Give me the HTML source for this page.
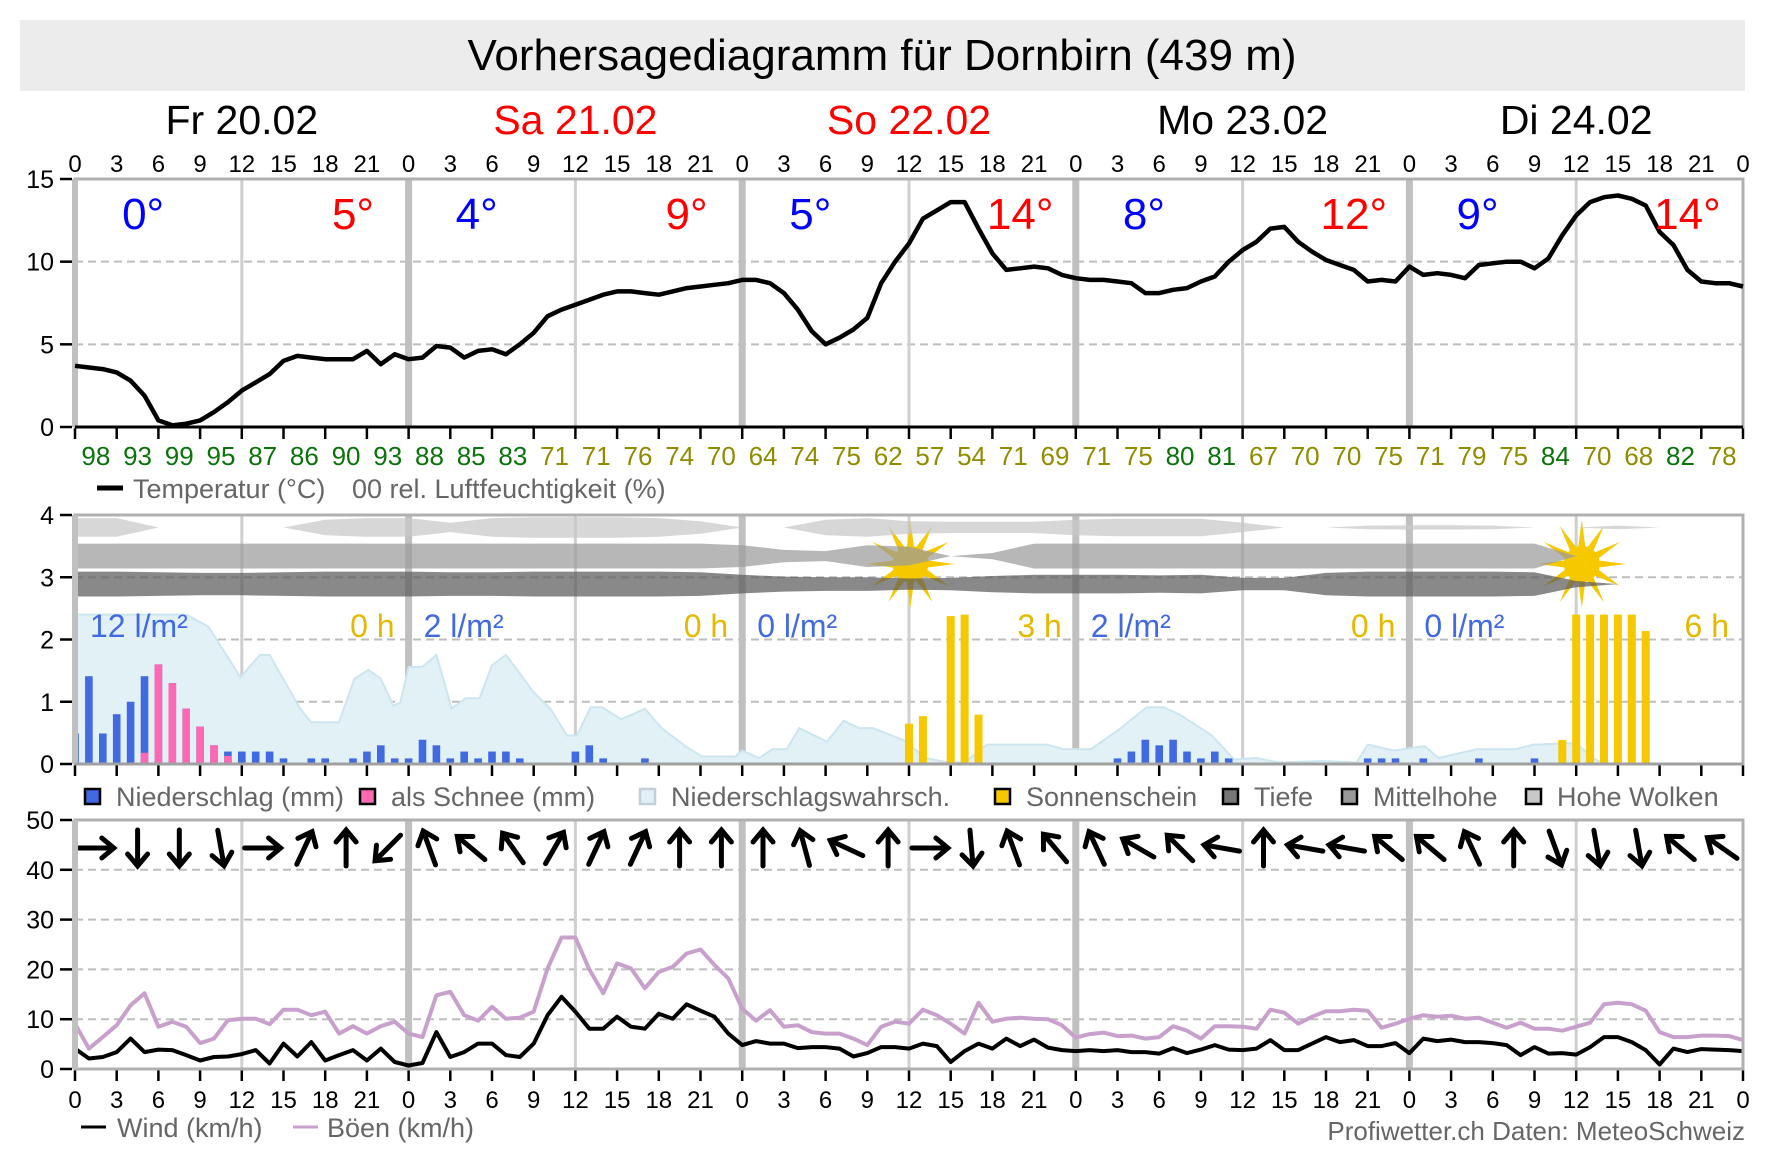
<!DOCTYPE html>
<html><head><meta charset="utf-8"><style>
html,body{margin:0;padding:0;background:#fff;}
svg{display:block;font-family:"Liberation Sans",Arial,sans-serif;}
</style></head><body>
<svg id="chart" width="1773" height="1174" viewBox="0 0 1773 1174" xmlns="http://www.w3.org/2000/svg">
<rect x="20" y="20" width="1725" height="71" fill="#ececec"/>
<text x="882" y="70" font-size="44" text-anchor="middle" fill="#000">Vorhersagediagramm für Dornbirn (439 m)</text>
<g id="g"></g>
</svg>
<script>
// ---------- data ----------
const dayLabels = ["Fr 20.02","Sa 21.02","So 22.02","Mo 23.02","Di 24.02"];
const dayColors = ["#000","#ff0000","#ff0000","#000","#000"];
const dayMin = [0,4,5,8,9];
const dayMax = [5,9,14,12,14];
const dayPrecip = ["12 l/m²","2 l/m²","0 l/m²","2 l/m²","0 l/m²"];
const daySun = ["0 h","0 h","3 h","0 h","6 h"];
const hourTicks = ["0","3","6","9","12","15","18","21"];
const temps = [3.7,3.6,3.5,3.3,2.8,1.9,0.4,0.1,0.2,0.4,0.9,1.5,2.2,2.7,3.2,4.0,4.3,4.2,4.1,4.1,4.1,4.6,3.8,4.4,
4.1,4.2,4.9,4.8,4.2,4.6,4.7,4.4,5.0,5.7,6.7,7.1,7.4,7.7,8.0,8.2,8.2,8.1,8.0,8.2,8.4,8.5,8.6,8.7,
8.9,8.9,8.7,8.1,7.1,5.8,5.0,5.4,5.9,6.6,8.7,10.0,11.1,12.6,13.1,13.6,13.6,12.0,10.5,9.5,9.6,9.7,9.6,9.2,
9.0,8.9,8.9,8.8,8.7,8.1,8.1,8.3,8.4,8.8,9.1,10.0,10.7,11.2,12.0,12.1,11.2,10.6,10.1,9.8,9.5,8.8,8.9,8.8,
9.7,9.2,9.3,9.2,9.0,9.8,9.9,10.0,10.0,9.6,10.2,11.6,12.8,13.6,13.9,14.0,13.8,13.4,11.8,11.0,9.5,8.8,8.7,8.7,8.5];
const humidity = [98,93,99,95,87,86,90,93,88,85,83,71,71,76,74,70,64,74,75,62,57,54,71,69,71,75,80,81,67,70,70,75,71,79,75,84,70,68,82,78];
const cloudHigh = [.3,.3,0,0,0,0,.25,.3,.3,.15,.3,.33,.33,.33,.3,.2,0,0,.25,.3,.2,.18,.18,.18,.25,.28,.28,.28,.15,0,0,.06,.07,.07,.06,0,0,.06,0,0,0];
const cloudMid = [.4,.4,.4,.4,.4,.4,.4,.4,.4,.4,.4,.4,.4,.4,.4,.4,.35,.2,.16,.35,.3,0,.1,.4,.4,.4,.4,.4,.4,.4,.4,.4,.4,.4,.4,.4,0,0,0,0,0];
const cloudLow = [.4,.4,.38,.36,.36,.38,.4,.4,.4,.38,.38,.4,.4,.4,.4,.38,.3,.24,.22,.22,.18,.2,.26,.3,.3,.3,.28,.3,.2,.2,.36,.4,.4,.4,.4,.38,.1,0,0,0,0];
const probHours = [0,8,9.6,11.9,13.3,14,16.2,17,19,20.1,21.1,22,22.9,23.4,24,25,26,27.1,28.1,29.1,30,31,33,34.2,35.4,36.1,37.1,37.9,39.3,41,42.2,43.9,45.1,47.5,48,49.2,50.2,51.2,52.1,54.1,55.3,56.4,57.4,59.6,61.2,62.8,64,65.6,69.9,71.1,73.1,75.1,77.1,78.3,79.5,81.8,83.4,85,86.6,89.8,92.2,93,94.9,97.1,98.1,100.9,103.7,104.9,108,109.2,110,120];
const probPct = [100,100,92,58,73,73,37,28,28,57,63,57,39,41,65,65,73,37,44,44,66,73,48,37,19,19,38,38,30,37,24,12,5,5,9,4,10,10,24,15,29,24,24,16,4,1,1,13,13,10,10,23,38,38,33,19,3,4,1,2,1,13,9,12,4,10,10,13,14,4,0,0];
const rainHours = [0,1,2,3,4,5,6,7,8,9,10,11,12,13,14,15,17,18,20,21,22,23,24,25,26,27,28,29,30,31,32,36,37,38,41,75,76,77,78,79,80,81,82,83,93,94,95,97,101,105];
const rainMM = [0.49,1.41,0.49,0.8,1.0,1.41,1.6,1.3,0.89,0.6,0.3,0.2,0.2,0.2,0.2,0.09,0.09,0.09,0.09,0.2,0.3,0.09,0.09,0.39,0.3,0.09,0.2,0.09,0.2,0.2,0.09,0.2,0.3,0.09,0.09,0.09,0.2,0.39,0.3,0.39,0.2,0.09,0.2,0.09,0.09,0.09,0.09,0.09,0.09,0.09];
const snowMM = [0,0,0,0,0,0.18,1.6,1.3,0.89,0.6,0.3,0.13,0,0,0,0,0,0,0,0,0,0,0,0,0,0,0,0,0,0,0,0,0,0,0,0,0,0,0,0,0,0,0,0,0,0,0,0,0,0];
const sunHours = [60,61,63,64,65,107,108,109,110,111,112,113];
const sunFrac = [0.27,0.32,0.99,1.0,0.33,0.16,1,1,1,1,1,0.89];
const sunIconHours = [60.1,108.4];
const wind = [4.1,2.1,2.4,3.4,6.1,3.4,3.9,3.8,2.8,1.7,2.4,2.5,3.0,3.8,1.1,5.1,2.5,5.4,1.7,2.8,3.8,1.7,4.1,1.4,
0.7,1.2,7.4,2.4,3.4,5.1,5.1,2.8,2.4,5.1,10.8,14.5,11.5,8.1,8.1,10.5,8.5,8.1,11.1,10.1,13.0,11.7,10.5,7.1,
4.8,5.6,5.1,5.1,4.2,4.4,4.4,4.1,2.5,3.2,4.4,4.4,4.1,5.1,4.6,1.4,3.6,5.1,4.1,6.1,4.6,5.9,4.3,3.8,
3.6,3.8,3.6,3.8,3.4,3.4,3.1,4.2,3.2,3.9,4.8,3.9,3.8,4.1,5.8,3.8,3.8,5.1,6.4,5.4,5.8,4.6,4.6,5.2,
3.2,6.1,5.6,5.9,5.4,5.4,5.2,4.8,2.8,4.4,3.1,3.2,2.9,4.4,6.4,6.4,5.4,3.8,0.9,4.1,3.4,4.0,3.9,3.8,3.6];
const gusts = [9.1,4.1,6.4,8.8,12.8,15.2,8.5,9.5,8.5,5.2,6.1,9.8,10.1,10.1,9.0,11.9,11.9,10.8,11.5,7.1,8.6,7.1,8.6,9.5,
7.1,6.4,14.8,15.5,10.8,9.7,12.5,10.1,10.3,11.5,20.2,26.4,26.4,20.0,15.2,21.2,20.2,16.2,19.5,20.5,23.2,24.0,20.9,18.2,
12.1,9.7,11.8,8.5,8.8,7.4,7.1,7.1,6.1,4.8,8.5,9.5,9.1,11.9,10.8,9.1,7.1,13.3,9.5,10.1,10.3,10.1,10.0,8.8,
6.3,7.0,7.3,6.6,6.7,6.1,6.4,8.6,7.7,6.1,8.6,8.6,8.5,8.1,11.9,11.3,9.1,10.5,11.6,11.6,11.9,11.7,8.3,9.1,
10.1,10.8,10.5,10.7,10.1,10.3,9.3,8.3,9.3,8.1,8.1,7.7,8.5,9.3,13.0,13.3,13.0,11.7,7.4,6.4,6.4,6.7,6.7,6.6,5.8];
const windDir = [90,180,180,170,90,25,0,225, -20,-50,-35,30,25,25,0,0, 0,-15,-65,0,90,175,-20,-40, -25,-60,-45,-80,0,-80,-80,-50, -50,-25,0,160,170,170,-50,-55];

// ---------- layout ----------
const NS="http://www.w3.org/2000/svg";
const G=document.getElementById('g');
const X0=75, X1=1743;
const X=h=>X0+(X1-X0)*h/120;
const P1={top:179,bot:427,max:15}, P2={top:515,bot:764,max:4}, P3={top:820,bot:1069,max:50};
const Y=(p,v)=>p.bot-(p.bot-p.top)*v/p.max;
function el(tag,attrs,parent){const e=document.createElementNS(NS,tag);for(const k in attrs)e.setAttribute(k,attrs[k]);(parent||G).appendChild(e);return e;}
function txt(x,y,s,size,fill,anchor){const t=el('text',{x:x,y:y,'font-size':size,fill:fill,'text-anchor':anchor||'middle'});t.textContent=s;return t;}

for(let d=0;d<5;d++){
  const t=txt(X(d*24+12),134,dayLabels[d],41,dayColors[d]);
  
  
  for(let i=0;i<8;i++){
    const a=txt(X(d*24+i*3),172,hourTicks[i],24,'#000');
    
    
  }
}
{const a=txt(X(120),172,'0',24,'#000');}

function panelFrame(p,ticks,name){
  ticks.forEach(v=>{
    if(v>0&&v<p.max){const l=el('line',{x1:X0,x2:X1,y1:Y(p,v),y2:Y(p,v),stroke:'#bdbdbd','stroke-width':2,'stroke-dasharray':'8,5'});
    }
    const tk=el('line',{x1:60,x2:72,y1:Y(p,v),y2:Y(p,v),stroke:'#000','stroke-width':2.5});
    
    const t=txt(54,Y(p,v)+9,String(v),25,'#000','end');
    
  });
  for(let d=1;d<5;d++){
    const l=el('line',{x1:X(d*24),x2:X(d*24),y1:p.top,y2:p.bot,stroke:'#c0c0c0','stroke-width':7});
    
  }
  for(let d=0;d<5;d++){
    const l=el('line',{x1:X(d*24+12),x2:X(d*24+12),y1:p.top,y2:p.bot,stroke:'#cfcfcf','stroke-width':3});
    
  }
  for(let h=0;h<=120;h+=3){
    const t=el('line',{x1:X(h),x2:X(h),y1:p.bot,y2:p.bot+12,stroke:'#000','stroke-width':2.5});
    
  }
}
function panelBorder(p,name){
  const r=el('rect',{x:X0,y:p.top,width:X1-X0,height:p.bot-p.top,fill:'none',stroke:'#b0b0b0','stroke-width':3});
  
  const l=el('line',{x1:X0,x2:X0,y1:p.top,y2:p.bot,stroke:'#c0c0c0','stroke-width':6});
  
}

// ---------- panel 1 ----------
panelFrame(P1,[0,5,10,15],'temp');
panelBorder(P1,'temp');
{const l=el('line',{x1:X0,x2:X1,y1:P1.bot,y2:P1.bot,stroke:'#000','stroke-width':3});}
{
  const pts=temps.map((v,i)=>X(i).toFixed(1)+','+Y(P1,v).toFixed(1)).join(' ');
  const pl=el('polyline',{points:pts,fill:'none',stroke:'#000','stroke-width':4.5,'stroke-linejoin':'round'});
  
}
for(let d=0;d<5;d++){
  const a=txt(X(d*24+4.9),229,dayMin[d]+'°',44,'#0000ff');
  
  const b=txt(X(d*24+20),229,dayMax[d]+'°',44,'#ff0000');
  
}
humidity.forEach((v,i)=>{
  const t=txt(X(1.5+3*i),465,String(v),26,v>=80?'#0b730b':'#8f8c00');
  
});
{const l=el('line',{x1:97,x2:123,y1:488,y2:488,stroke:'#000','stroke-width':5});
const t=txt(133,498,'Temperatur (°C)',27,'#666','start');
const t2=txt(352,498,'00 rel. Luftfeuchtigkeit (%)',27,'#666','start');}

// ---------- panel 2 ----------
panelFrame(P2,[0,1,2,3,4],'precip');
{
  const top=probHours.map((h,i)=>X(h).toFixed(1)+','+Y(P2,probPct[i]*0.024).toFixed(1));
  const pts=top.join(' ')+' '+X(120)+','+P2.bot+' '+X(0)+','+P2.bot;
  const a=el('polygon',{points:pts,fill:'#e2f1f6',stroke:'#cde5ee','stroke-width':2});
  
}
rainHours.forEach((h,i)=>{
  const x=Math.max(X0,X(h)-3.8), w=X(h)+3.8-x;
  const r=el('rect',{x:x,y:Y(P2,rainMM[i]),width:w,height:P2.bot-Y(P2,rainMM[i]),fill:'#4169e1'});
  
  if(snowMM[i]>0){
    const s=el('rect',{x:x,y:Y(P2,snowMM[i]),width:w,height:P2.bot-Y(P2,snowMM[i]),fill:'#ff69b4'});
    
  }
});
sunHours.forEach((h,i)=>{
  const r=el('rect',{x:X(h)-4,y:Y(P2,sunFrac[i]*2.4),width:8,height:P2.bot-Y(P2,sunFrac[i]*2.4),fill:'#f5c800'});
  
});
sunIconHours.forEach(h=>{
  const cx=X(h), cy=564; let p=[];
  for(let k=0;k<24;k++){const a=k*Math.PI/12-Math.PI/2;const r=k%2?15:44;p.push((cx+r*Math.cos(a)).toFixed(1)+','+(cy+r*Math.sin(a)).toFixed(1));}
  const s=el('polygon',{points:p.join(' '),fill:'#f5c800'});
  
  el('circle',{cx:cx,cy:cy,r:18,fill:'#f5c800'});
});
function cloud(arr,center,color,name){
  const up=[],dn=[];
  arr.forEach((t,i)=>{up.push(X(i*3).toFixed(1)+','+Y(P2,center+t/2).toFixed(1));dn.unshift(X(i*3).toFixed(1)+','+Y(P2,center-t/2).toFixed(1));});
  const c=el('polygon',{points:up.concat(dn).join(' '),fill:color,'fill-opacity':0.72});
  
}
cloud(cloudHigh,3.8,'#c8c8c8','high-clouds');
cloud(cloudMid,3.34,'#9b9b9b','mid-clouds');
cloud(cloudLow,2.89,'#5b5b5b','low-clouds');
for(let d=0;d<5;d++){
  const a=txt(X(d*24)+15,637,dayPrecip[d],32,'#4169e1','start');
  
  const b=txt(X(d*24+24)-14,637,daySun[d],32,'#e6b800','end');
  
}
panelBorder(P2,'precip');
{const l=el('line',{x1:X0,x2:X1,y1:P2.bot,y2:P2.bot,stroke:'#a0a0a0','stroke-width':3});}
const leg2=[[85,'#4169e1','Niederschlag (mm)','legend-precip'],[360,'#ff69b4','als Schnee (mm)','legend-snow'],[640,'#e2f1f6','Niederschlagswahrsch.','legend-probability'],[995,'#f5c800','Sonnenschein','legend-sunshine'],[1223,'#777','Tiefe','legend-low-clouds'],[1342,'#999','Mittelhohe','legend-mid-clouds'],[1526,'#c8c8c8','Hohe Wolken','legend-high-clouds']];
leg2.forEach(l=>{
  const r=el('rect',{x:l[0],y:789,width:15,height:15,fill:l[1],stroke:(l[3]==='legend-probability'?'#c0d0d8':'#000'),'stroke-width':2.5});
  
  const t=txt(l[0]+31,806,l[2],27,'#666','start');
  
});

// ---------- panel 3 ----------
panelFrame(P3,[0,10,20,30,40,50],'wind');
{
  const g1=el('polyline',{points:gusts.map((v,i)=>X(i).toFixed(1)+','+Y(P3,v).toFixed(1)).join(' '),fill:'none',stroke:'#c8a0cc','stroke-width':4,'stroke-linejoin':'round'});
  
  const w1=el('polyline',{points:wind.map((v,i)=>X(i).toFixed(1)+','+Y(P3,v).toFixed(1)).join(' '),fill:'none',stroke:'#000','stroke-width':4,'stroke-linejoin':'round'});
  
}
windDir.forEach((a,i)=>{
  const g=el('g',{transform:'translate('+X(1.5+3*i).toFixed(1)+',848) rotate('+a+')'});
  
  el('line',{x1:0,y1:18,x2:0,y2:-14,stroke:'#000','stroke-width':5,'stroke-linecap':'round'},g);
  el('polyline',{points:'-10,-6 0,-18 10,-6',fill:'none',stroke:'#000','stroke-width':5,'stroke-linecap':'round','stroke-linejoin':'miter'},g);
});
panelBorder(P3,'wind');
for(let d=0;d<5;d++)for(let i=0;i<8;i++){
  const t=txt(X(d*24+i*3),1108,hourTicks[i],24,'#000');
  
}
{const t=txt(X(120),1108,'0',24,'#000');}
{const l=el('line',{x1:81,x2:106,y1:1127,y2:1127,stroke:'#000','stroke-width':3});
const t=txt(117,1137,'Wind (km/h)',27,'#666','start');
const l2=el('line',{x1:293,x2:318,y1:1127,y2:1127,stroke:'#c8a0cc','stroke-width':3});
const t2=txt(327,1137,'Böen (km/h)',27,'#666','start');
const c=txt(1745,1140,'Profiwetter.ch Daten: MeteoSchweiz',26,'#666','end');}
</script>
</body></html>
